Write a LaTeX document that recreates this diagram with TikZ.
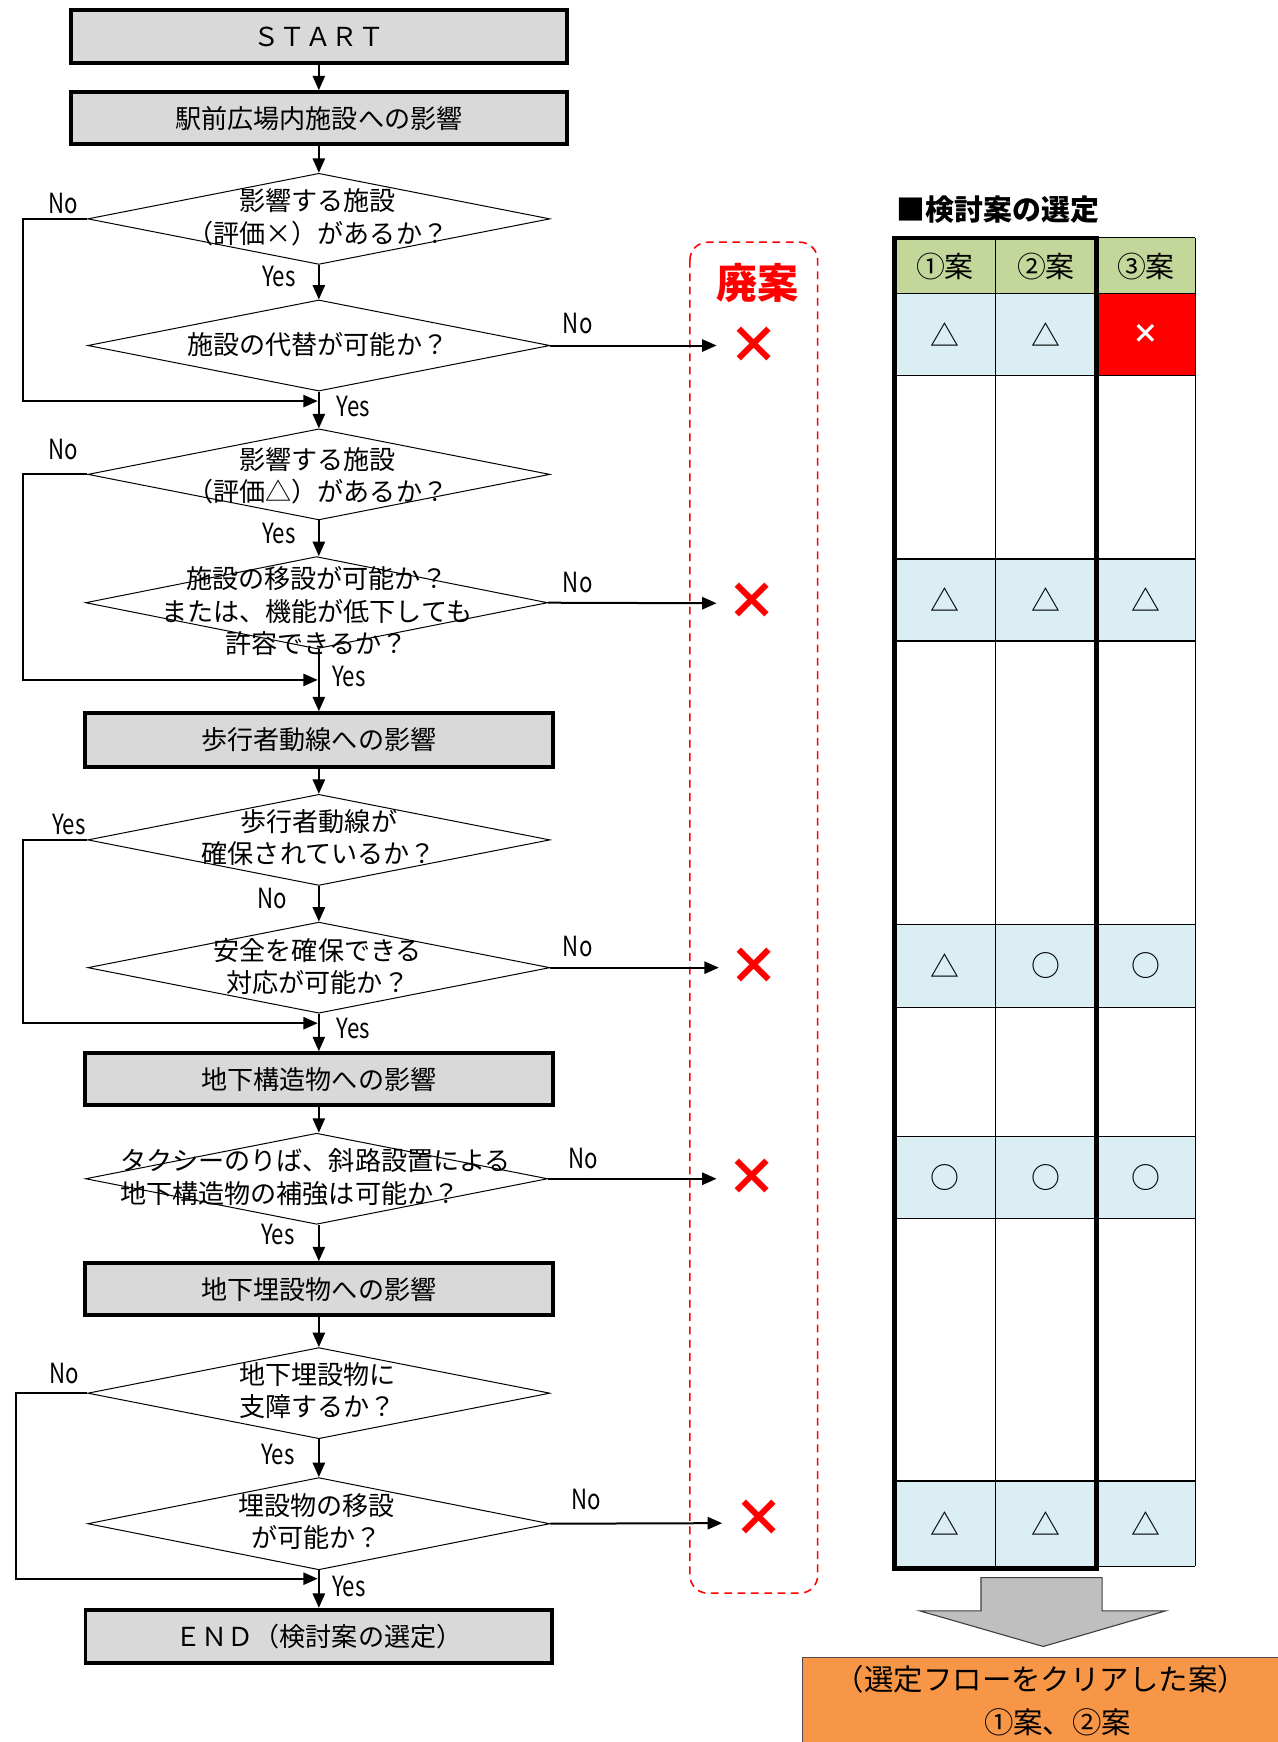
\documentclass[tikz,border=0pt]{standalone}
\usepackage{fontspec}
\setmainfont{Noto Sans CJK JP}
\newfontfamily\narrowfont[FakeStretch=0.8]{Noto Sans CJK JP}
\usetikzlibrary{shapes.geometric,arrows.meta}
\definecolor{boxgray}{HTML}{D9D9D9}
\definecolor{hdrgreen}{HTML}{C4D79B}
\definecolor{cellblue}{HTML}{DAEEF3}
\definecolor{xred}{HTML}{FF0000}
\definecolor{arrgray}{HTML}{BFBFBF}
\definecolor{resorange}{HTML}{F79646}
\newcommand\fsmain{\fontsize{23.5}{29}\selectfont}
\begin{document}
\begin{tikzpicture}[x=1pt,y=-1pt,
  box/.style={draw, line width=3.5pt, fill=boxgray, minimum height=48pt, inner sep=0pt, font=\fsmain},
  dia/.style={draw, line width=0.9pt, shape=diamond, minimum width=416pt, minimum height=82pt, inner sep=0pt, fill=white},
  dtxt/.style={font=\fsmain, align=center, inner sep=0pt},
  lbl/.style={font=\narrowfont\fontsize{25}{25}\selectfont, inner sep=0pt},
  arr/.style={line width=1.8pt, -{Triangle[length=13pt,width=11pt]}},
  redx/.style={text=xred, font=\bfseries\fontsize{46}{46}\selectfont, inner sep=0pt},
  cell/.style={font=\fontsize{26}{26}\selectfont, inner sep=0pt},
  tline/.style={line width=1.3pt},
  tthick/.style={line width=4pt}
]
\useasboundingbox (0,0) rectangle (1150,1568);

% ---------- flowchart boxes ----------
\node[box, minimum width=446pt] (start) at (287,33) {ＳＴＡＲＴ};
\node[box, minimum width=446pt, minimum height=47pt] (b1) at (287,106.5) {駅前広場内施設への影響};
\node[box, minimum width=421pt] (b2) at (287,666) {歩行者動線への影響};
\node[box, minimum width=421pt, minimum height=47pt] (b3) at (287,971.5) {地下構造物への影響};
\node[box, minimum width=421pt, minimum height=47pt] (b4) at (287,1160.5) {地下埋設物への影響};
\node[box, minimum width=420pt] (end) at (287,1473) {ＥＮＤ（検討案の選定）};

% ---------- diamonds ----------
\node[dia] (d1) at (287,197) {};
\node[dia] (d2) at (287,311) {};
\node[dia] (d3) at (287,427) {};
\node[dia, minimum height=83pt] (d4) at (285,542.5) {};
\node[dia] (d5) at (287,756) {};
\node[dia] (d6) at (287,871) {};
\node[dia] (d7) at (285,1061) {};
\node[dia] (d8) at (287,1254) {};
\node[dia, minimum height=83pt] (d9) at (287,1371.5) {};

\node[dtxt] (t1) at (286,195.5) {影響する施設\\（評価×）があるか？};
\node[dtxt] (t2) at (286,310) {施設の代替が可能か？};
\node[dtxt] (t3) at (286,428) {影響する施設\\（評価△）があるか？};
\node[dtxt] (t4) at (285,550) {施設の移設が可能か？\\または、機能が低下しても\\許容できるか？};
\node[dtxt] (t5) at (287,754) {歩行者動線が\\確保されているか？};
\node[dtxt] (t6) at (286,870) {安全を確保できる\\対応が可能か？};
\node[dtxt, align=left] (t7) at (284,1059.5) {タクシーのりば、斜路設置による\\地下構造物の補強は可能か？};
\node[dtxt] (t8) at (286,1252) {地下埋設物に\\支障するか？};
\node[dtxt] (t9) at (285,1369.5) {埋設物の移設\\が可能か？};

% ---------- main vertical connectors ----------
\draw[arr] (start.south) -- (b1.north);
\draw[arr] (b1.south) -- (d1.north);
\draw[arr] (d1.south) -- (d2.north);
\draw[arr] (d2.south) -- (d3.north);
\draw[arr] (d3.south) -- (d3.south |- d4.north);
\draw[arr] (d4.south -| b2.north) -- (b2.north);
\draw[arr] (b2.south) -- (d5.north);
\draw[arr] (d5.south) -- (d6.north);
\draw[arr] (d6.south) -- (b3.north);
\draw[arr] (b3.south) -- (b3.south |- d7.north);
\draw[arr] (d7.south -| b4.north) -- (b4.north);
\draw[arr] (b4.south) -- (d8.north);
\draw[arr] (d8.south) -- (d9.north);
\draw[arr] (d9.south) -- (end.north);

% ---------- left loops ----------
\coordinate (L1) at (21,0);
\coordinate (L4) at (14,0);
\coordinate (j1) at (286,361);
\coordinate (j2) at (286,612);
\coordinate (j3) at (286,921);
\coordinate (j4) at (286,1421);
\draw[arr] (d1.west) -| (L1 |- j1) -- (j1);
\draw[arr] (d3.west) -| (L1 |- j2) -- (j2);
\draw[arr] (d5.west) -| (L1 |- j3) -- (j3);
\draw[arr] (d8.west) -| (L4 |- j4) -- (j4);

% ---------- rejection box ----------
\draw[xred, line width=1.4pt, rounded corners=16pt, dash pattern=on 7pt off 5pt] (621,218) rectangle (736,1434);
\node[text=xred, font=\bfseries\fontsize{37}{37}\selectfont, inner sep=0pt] (haian) at (682,255) {廃案};
\node[redx] (x1) at (679,311) {×};
\node[redx] (x2) at (677,541) {×};
\node[redx] (x3) at (679,870) {×};
\node[redx] (x4) at (677,1060) {×};
\node[redx] (x5) at (683,1367) {×};
\coordinate (e1) at (645,311);
\coordinate (e2) at (645,543);
\coordinate (e3) at (647,871);
\coordinate (e4) at (645,1061);
\coordinate (e5) at (650,1371);
\draw[arr] (d2.east) -- (e1);
\draw[arr] (d4.east) -- (e2);
\draw[arr] (d6.east) -- (e3);
\draw[arr] (d7.east) -- (e4);
\draw[arr] (d9.east) -- (e5);

% ---------- Yes / No labels ----------
\node[lbl] (n1) at (57,183) {No};
\node[lbl] (y1) at (251,249) {Yes};
\node[lbl] (n2) at (520,291) {No};
\node[lbl] (y2) at (318,366) {Yes};
\node[lbl] (n3) at (57,405) {No};
\node[lbl] (y3) at (251,480) {Yes};
\node[lbl] (n4) at (520,524) {No};
\node[lbl] (y4) at (314,609) {Yes};
\node[lbl] (y5) at (62,742) {Yes};
\node[lbl] (n5) at (245,809) {No};
\node[lbl] (n6) at (520,852) {No};
\node[lbl] (y6) at (318,926) {Yes};
\node[lbl] (n7) at (525,1043) {No};
\node[lbl] (y7) at (250,1111) {Yes};
\node[lbl] (n8) at (58,1236) {No};
\node[lbl] (y8) at (250,1309) {Yes};
\node[lbl] (n9) at (528,1350) {No};
\node[lbl] (y9) at (314,1428) {Yes};

% ---------- selection table ----------
\node[font=\bfseries\fontsize{26}{26}\selectfont, inner sep=0pt, anchor=west] (title) at (807,189) {■検討案の選定};

\fill[hdrgreen] (805,214) rectangle (1076,264);
\fill[cellblue] (805,264) rectangle (987,338);
\fill[xred] (987,264) rectangle (1076,338);
\fill[cellblue] (805,503) rectangle (1076,577);
\fill[cellblue] (805,832) rectangle (1076,907);
\fill[cellblue] (805,1023) rectangle (1076,1097);
\fill[cellblue] (805,1333) rectangle (1076,1410);

\foreach \yy in {264,338,503,577,832,907,1023,1097,1333,1410}
  \draw[tline] (805,\yy) -- (1076,\yy);
\draw[tline] (987,214) -- (1076,214);
\draw[tline] (896,214) -- (896,1410);
\draw[tline] (1076,214) -- (1076,1410);
\draw[tthick] (805,214) rectangle (987,1412);

\node[cell] (h1) at (850.5,240) {①案};
\node[cell] (h2) at (941.5,240) {②案};
\node[cell] (h3) at (1031.5,240) {③案};

\node[cell] (c11) at (850.5,301) {△};
\node[cell] (c12) at (941.5,301) {△};
\node[cell, text=white, font=\bfseries\fontsize{24}{24}\selectfont] (c13) at (1031.5,301) {×};
\node[cell] (c21) at (850.5,540) {△};
\node[cell] (c22) at (941.5,540) {△};
\node[cell] (c23) at (1031.5,540) {△};
\node[cell] (c31) at (850.5,869.5) {△};
\node[cell] (c32) at (941.5,869.5) {○};
\node[cell] (c33) at (1031.5,869.5) {○};
\node[cell] (c41) at (850.5,1060) {○};
\node[cell] (c42) at (941.5,1060) {○};
\node[cell] (c43) at (1031.5,1060) {○};
\node[cell] (c51) at (850.5,1371) {△};
\node[cell] (c52) at (941.5,1371) {△};
\node[cell] (c53) at (1031.5,1371) {△};

% ---------- big arrow and result ----------
\draw[draw=black!75, line width=1pt, fill=arrgray] (883,1420) -- (992,1420) -- (992,1450) -- (1049,1450) -- (939,1482) -- (828,1450) -- (883,1450) -- cycle;
\fill[resorange] (722,1492) rectangle (1150,1568);
\draw[black!70, line width=1pt] (722,1568) -- (722,1492) -- (1150,1492);
\node[font=\fontsize{26.5}{26.5}\selectfont, inner sep=0pt] (r1) at (937,1512) {（選定フローをクリアした案）};
\node[font=\fontsize{26.5}{26.5}\selectfont, inner sep=0pt] (r2) at (952,1550) {①案、②案};
\end{tikzpicture}
\end{document}
